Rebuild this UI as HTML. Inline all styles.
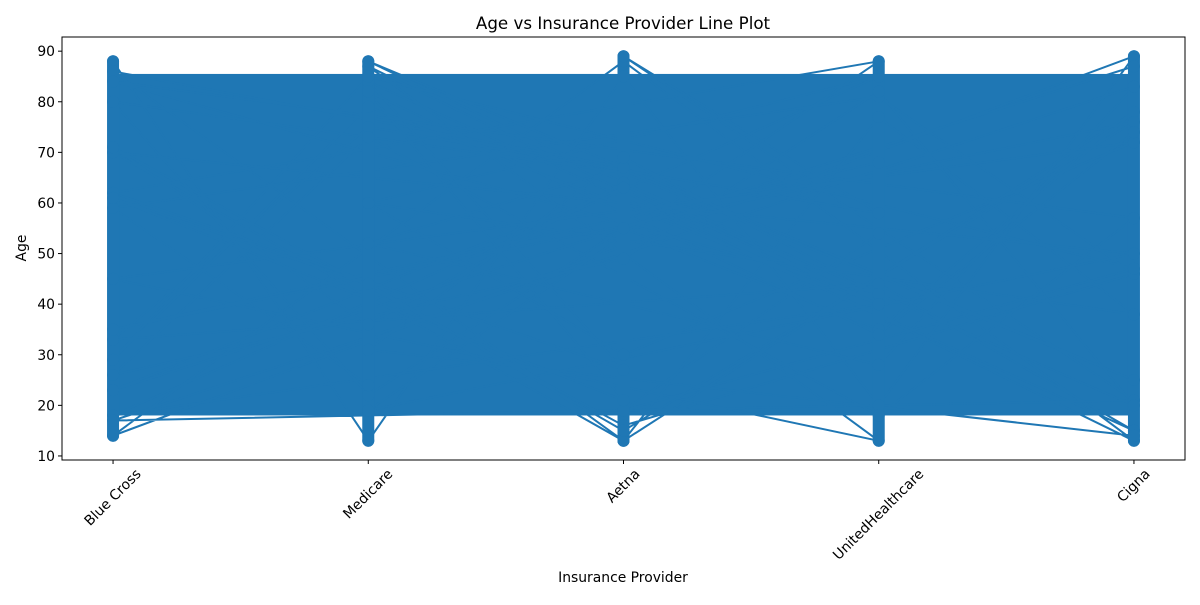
<!DOCTYPE html>
<html><head><meta charset="utf-8"><style>
body{margin:0;background:#fff;}
text{font-family:"DejaVu Sans","Liberation Sans",sans-serif;fill:#000;}
</style></head><body>
<svg id="chart" width="1200" height="600" xmlns="http://www.w3.org/2000/svg">
<rect width="1200" height="600" fill="#fff"/>
<g id="plot"></g>
<g id="axes"></g>
<text x="623" y="29" font-size="16.7" text-anchor="middle">Age vs Insurance Provider Line Plot</text>
<text x="623" y="582" font-size="13.9" text-anchor="middle">Insurance Provider</text>
<text x="26" y="248" font-size="13.9" text-anchor="middle" transform="rotate(-90 26 248)">Age</text>
</svg>
<script>
const categories = ["Blue Cross","Medicare","Aetna","UnitedHealthcare","Cigna"];
const yTicks = [10,20,30,40,50,60,70,80,90];
const providerIdx = [0,1,2,3,4,0,2,4,1,3,0,4,2,1,3,0,3,1,4,2,0,1,2,3,4,2,0,4,1,3,
 0,2,1,4,3,0,1,3,2,4,0,4,3,1,2,0,2,3,4,1,1,0,3,4,2,0,1,2,4,3,
 2,0,1,3,4,0,3,2,1,4,4,0,2,3,1,0,1,4,2,3,3,0,4,2,1,0,2,1,3,4];
const ages = [88,13,85,20,89,14,88,13,87,13,45,72,30,60,85,18,40,88,25,66,
 80,22,55,35,78,13,70,50,19,88,62,27,84,15,44,33,75,58,89,21,
 17,83,28,52,67,86,13,77,38,60,24,59,81,46,16,71,36,64,20,82,
 49,26,73,18,57,84,42,69,31,14,87,23,63,40,79,29,85,47,19,54,
 68,35,76,15,44,61,21,82,34,74];
const X0=62, X1=1185, Y0=460, Y1=37, YMIN=9.2, YMAX=92.8;
function xs(i){return X0+(i+0.2)/4.4*(X1-X0);}
function ys(v){return Y0-(v-YMIN)/(YMAX-YMIN)*(Y0-Y1);}
const NS="http://www.w3.org/2000/svg";
const plot=document.getElementById('plot');
const axes=document.getElementById('axes');
const col="#1f77b4";
const band=document.createElementNS(NS,'rect');


band.setAttribute('x',xs(0));band.setAttribute('width',xs(4)-xs(0));
band.setAttribute('y',ys(85.5));band.setAttribute('height',ys(18)-ys(85.5));
band.setAttribute('fill',col);plot.appendChild(band);
let d='';
for(let k=0;k<ages.length;k++){d+=(k?'L':'M')+xs(providerIdx[k]).toFixed(1)+' '+ys(ages[k]).toFixed(1);}
const line=document.createElementNS(NS,'path');


line.setAttribute('d',d);line.setAttribute('fill','none');line.setAttribute('stroke',col);line.setAttribute('stroke-width','2');
plot.appendChild(line);
for(let c=0;c<categories.length;c++){
 let mn=1e9,mx=-1e9;
 for(let k=0;k<ages.length;k++) if(providerIdx[k]===c){mn=Math.min(mn,ages[k]);mx=Math.max(mx,ages[k]);}
 const r=document.createElementNS(NS,'rect');
 
 
 r.setAttribute('x',xs(c)-6);r.setAttribute('width',12);r.setAttribute('y',ys(mx)-6);r.setAttribute('height',ys(mn)-ys(mx)+12);r.setAttribute('rx',6);
 r.setAttribute('fill',col);plot.appendChild(r);
}
for(let k=0;k<ages.length;k++){
 const m=document.createElementNS(NS,'circle');
 
 
 m.setAttribute('cx',xs(providerIdx[k]));m.setAttribute('cy',ys(ages[k]));m.setAttribute('r',6);m.setAttribute('fill',col);
 plot.appendChild(m);
}
const frame=document.createElementNS(NS,'rect');


frame.setAttribute('x',X0);frame.setAttribute('y',Y1);frame.setAttribute('width',X1-X0);frame.setAttribute('height',Y0-Y1);
frame.setAttribute('fill','none');frame.setAttribute('stroke','#000');frame.setAttribute('stroke-width','1');
axes.appendChild(frame);
for(const v of yTicks){
 const y=ys(v);
 const t=document.createElementNS(NS,'line');
 
 
 t.setAttribute('x1',X0-4);t.setAttribute('x2',X0);t.setAttribute('y1',y);t.setAttribute('y2',y);t.setAttribute('stroke','#000');
 axes.appendChild(t);
 const l=document.createElementNS(NS,'text');
 
 
 l.setAttribute('x',X0-7);l.setAttribute('y',y+5);l.setAttribute('font-size','13.9');l.setAttribute('text-anchor','end');
 l.textContent=v;axes.appendChild(l);
}
categories.forEach((c,i)=>{
 const x=xs(i);
 const t=document.createElementNS(NS,'line');
 
 
 t.setAttribute('x1',x);t.setAttribute('x2',x);t.setAttribute('y1',Y0);t.setAttribute('y2',Y0+4);t.setAttribute('stroke','#000');
 axes.appendChild(t);
 const l=document.createElementNS(NS,'text');
 
 
 l.setAttribute('font-size','13.9');l.setAttribute('text-anchor','middle');
 l.setAttribute('dominant-baseline','central');
 l.textContent=c;axes.appendChild(l);
 const w=l.getComputedTextLength(), h=14;
 const cy=Y0+7+(w+h)*0.7071/2;
 l.setAttribute('x',x);l.setAttribute('y',cy);
 l.setAttribute('transform','rotate(-45 '+x+' '+cy+')');
});
</script>
</body></html>
